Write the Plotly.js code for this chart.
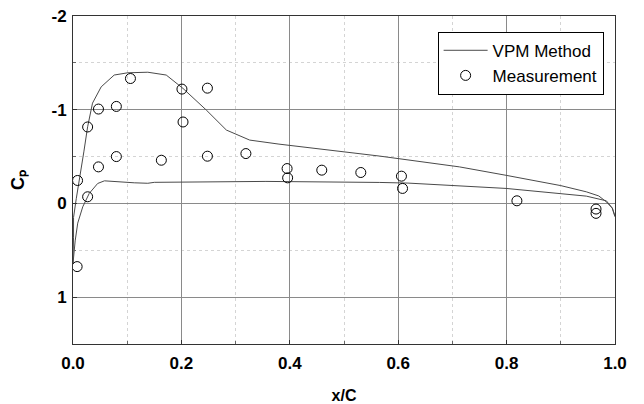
<!DOCTYPE html>
<html>
<head>
<meta charset="utf-8">
<script src="https://cdn.plot.ly/plotly-3.0.1.min.js"></script>
<style>html,body{margin:0;padding:0;background:#fff;}#chart{width:644px;height:404px;}</style>
</head>
<body>
<div id="chart"></div>
<script>
// VPM Method - upper surface (x/C, Cp)
const upperX = [0.0, 0.001, 0.001, 0.006, 0.0118, 0.02, 0.027, 0.036, 0.052, 0.076, 0.101, 0.138, 0.172, 0.203, 0.246, 0.283, 0.326, 0.380, 0.566, 0.713, 0.799, 0.900, 0.947, 0.970, 0.984, 0.995, 1.0];
const upperCp = [0.64, 0.36, 0.15, -0.05, -0.249, -0.55, -0.818, -1.07, -1.244, -1.37, -1.394, -1.40, -1.37, -1.227, -0.996, -0.783, -0.676, -0.633, -0.505, -0.39, -0.30, -0.19, -0.124, -0.08, -0.017, 0.05, 0.14];
// VPM Method - lower surface (x/C, Cp)
const lowerX = [0.0, 0.004, 0.0087, 0.018, 0.030, 0.0455, 0.058, 0.082, 0.113, 0.138, 0.150, 0.356, 0.566, 0.618, 0.713, 0.799, 0.947, 0.984, 0.995, 1.0];
const lowerCp = [0.64, 0.40, 0.21, 0.036, -0.107, -0.213, -0.241, -0.23, -0.22, -0.215, -0.225, -0.235, -0.224, -0.217, -0.19, -0.16, -0.078, -0.028, 0.05, 0.14];
// Measurement
const measX = [0.0076, 0.0084, 0.027, 0.027, 0.047, 0.047, 0.080, 0.080, 0.106, 0.163, 0.201, 0.203, 0.248, 0.248, 0.319, 0.395, 0.396, 0.459, 0.531, 0.606, 0.608, 0.819, 0.965, 0.965];
const measCp = [0.674, -0.245, -0.071, -0.816, -1.007, -0.39, -1.035, -0.50, -1.333, -0.461, -1.22, -0.869, -1.23, -0.504, -0.532, -0.372, -0.273, -0.355, -0.33, -0.291, -0.16, -0.028, 0.06, 0.106];
// Tick labels
const xTickVals = [0, 0.2, 0.4, 0.6, 0.8, 1.0];
const xTickText = ['0.0', '0.2', '0.4', '0.6', '0.8', '1.0'];
const yTickVals = [-2, -1, 0, 1];
const yTickText = ['-2', '-1', '0', '1'];

const vpmX = lowerX.slice().reverse().concat(upperX);
const vpmCp = lowerCp.slice().reverse().concat(upperCp);

const font = 'Arial, "Liberation Sans", sans-serif';
const traces = [
  {x: vpmX, y: vpmCp, mode: 'lines', name: 'VPM Method',
   line: {color: '#4a4a4a', width: 1}},
  {x: measX, y: measCp, mode: 'markers', name: 'Measurement',
   marker: {symbol: 'circle-open', size: 10, color: '#000', line: {width: 1, color: '#000'}}}
];
const layout = {
  width: 644, height: 404,
  margin: {l: 73, r: 29, t: 16, b: 60},
  paper_bgcolor: '#fff', plot_bgcolor: '#fff',
  showlegend: true,
  legend: {x: 0.979, y: 0.952, xanchor: 'right', yanchor: 'top',
    bgcolor: '#fff', bordercolor: '#000', borderwidth: 1,
    font: {family: font, size: 17, color: '#000'}, tracegroupgap: 0,
    itemwidth: 44},
  xaxis: {
    range: [0, 1], tickvals: xTickVals, ticktext: xTickText,
    showline: true, linecolor: '#333', linewidth: 1, mirror: true,
    showgrid: true, gridcolor: '#8a8a8a', gridwidth: 1, zeroline: false,
    ticks: 'inside', ticklen: 4, tickcolor: '#333', ticklabelstandoff: 4,
    minor: {dtick: 0.1, tick0: 0, showgrid: true, gridcolor: '#d4d4d4', griddash: 'dot', ticks: 'inside', ticklen: 3, tickcolor: '#666'},
    tickfont: {family: font, size: 17, color: '#000', weight: 'bold'},
    title: {text: 'x/C', font: {family: font, size: 16, color: '#000', weight: 'bold'}, standoff: 18}
  },
  yaxis: {
    range: [1.5, -2], tickvals: yTickVals, ticktext: yTickText,
    showline: true, linecolor: '#333', linewidth: 1, mirror: true,
    showgrid: true, gridcolor: '#8a8a8a', gridwidth: 1, zeroline: false,
    ticks: 'inside', ticklen: 4, tickcolor: '#333', ticklabelstandoff: 2,
    minor: {dtick: 0.5, tick0: 0, showgrid: true, gridcolor: '#d4d4d4', griddash: 'dot', ticks: 'inside', ticklen: 3, tickcolor: '#666'},
    tickfont: {family: font, size: 17, color: '#000', weight: 'bold'},
    title: {text: 'C\u209A', font: {family: font, size: 18, color: '#000', weight: 'bold'}, standoff: 22}
  }
};
Plotly.newPlot('chart', traces, layout, {displayModeBar: false, staticPlot: true});
</script>
</body>
</html>
